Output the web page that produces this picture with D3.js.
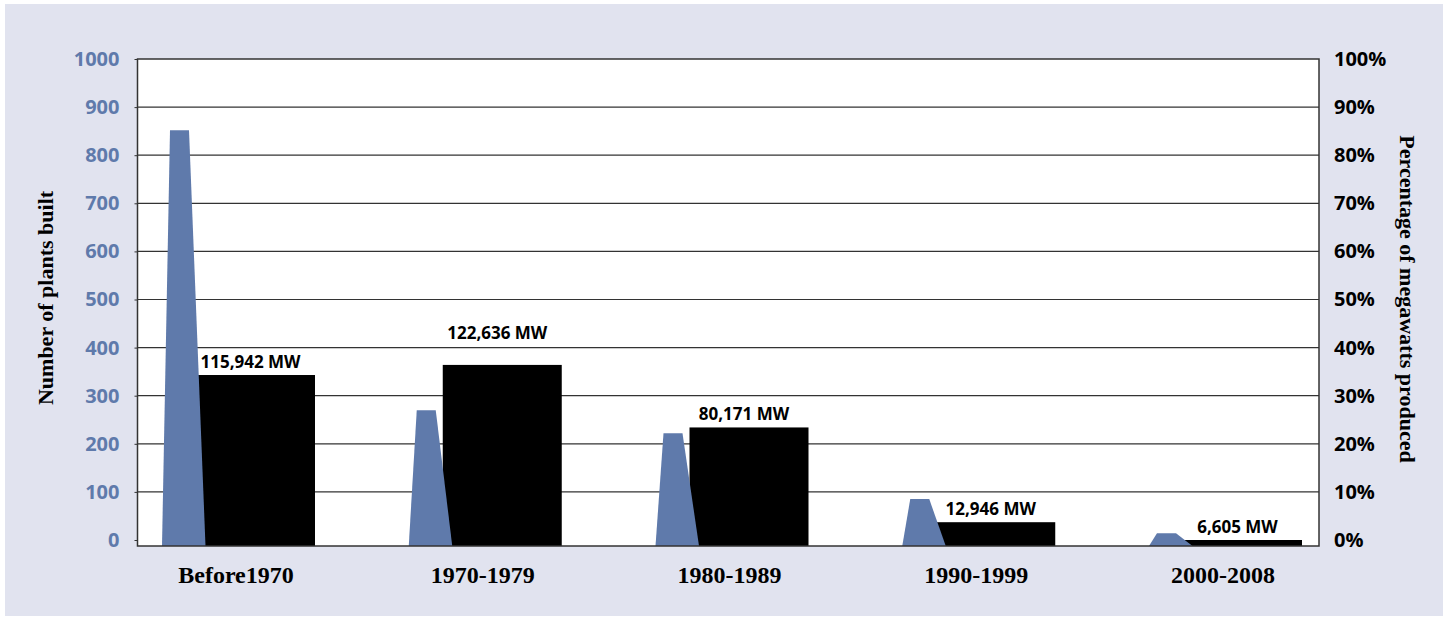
<!DOCTYPE html>
<html>
<head>
<meta charset="utf-8">
<script src="https://cdn.jsdelivr.net/npm/d3@7"></script>
<style>
	body { margin: 0; background: #fff; }
</style>
</head>
<body>
<div id="chart"></div>
<script>
const periods = ['Before1970', '1970-1979', '1980-1989', '1990-1999', '2000-2008'];
const plantsBuilt = [852, 270, 222, 85, 14];
const megawattShare = [34.3, 36.4, 23.4, 3.7, 0];
const megawattLabels = ['115,942 MW', '122,636 MW', '80,171 MW', '12,946 MW', '6,605 MW'];
const plantTicks = [0, 100, 200, 300, 400, 500, 600, 700, 800, 900, 1000];
const percentTicks = [0, 10, 20, 30, 40, 50, 60, 70, 80, 90, 100];

const dimensions = {
	width: 1448,
	height: 618,
	plot: { left: 137.5, right: 1319, top: 59, bottom: 546 },
	zeroY: 540
};

const blue = '#5f7aab';
const sans = '"Open Sans", sans-serif';
const serif = '"Liberation Serif", "Times New Roman", serif';

const svg = d3.select('#chart')
	.append('svg')
		.attr('width', dimensions.width)
		.attr('height', dimensions.height);

// panel background
svg.append('rect')
	.attr('x', 5).attr('y', 4)
	.attr('width', 1438).attr('height', 612)
	.attr('fill', '#e1e3ef');

const p = dimensions.plot;

svg.append('rect')
	.attr('x', p.left).attr('y', p.top)
	.attr('width', p.right - p.left).attr('height', p.bottom - p.top)
	.attr('fill', '#fff');

// scales
const yPlants = d3.scaleLinear()
	.domain([0, 1000])
	.range([dimensions.zeroY, p.top]);

const yPercent = d3.scaleLinear()
	.domain([0, 100])
	.range([dimensions.zeroY, p.top]);

// left edge of each group (cone base)
const xScale = d3.scalePoint()
	.domain(periods)
	.range([162, 1149]);

// gridlines
svg.append('g')
	.selectAll('line')
	.data(plantTicks.filter(d => d > 0 && d < 1000))
	.join('line')
		.attr('x1', p.left).attr('x2', p.right)
		.attr('y1', d => yPlants(d)).attr('y2', d => yPlants(d))
		.attr('stroke', '#333')
		.attr('stroke-width', 1.2);

// black bars: share of megawatts
const barOffset = 34, barWidth = 119;
svg.append('g')
	.selectAll('rect')
	.data(periods)
	.join('rect')
		.attr('x', d => xScale(d) + barOffset)
		.attr('y', (d, i) => yPercent(megawattShare[i]))
		.attr('width', barWidth)
		.attr('height', (d, i) => p.bottom - yPercent(megawattShare[i]))
		.attr('fill', '#000');

// blue cones: number of plants
const coneShape = (d, i) => {
	const l = xScale(d);
	const top = yPlants(plantsBuilt[i]);
	return `M${l},${p.bottom}L${l + 8},${top}L${l + 27},${top}L${l + 43.5},${p.bottom}Z`;
};
svg.append('g')
	.selectAll('path')
	.data(periods)
	.join('path')
		.attr('d', coneShape)
		.attr('fill', blue);

// MW labels over the bars
const labelLift = { '1970-1979': 19 };
svg.append('g')
	.selectAll('text')
	.data(periods)
	.join('text')
		.attr('x', d => xScale(d) + barOffset + barWidth / 2 - 5)
		.attr('y', (d, i) => yPercent(megawattShare[i]) - 7 - (labelLift[d] || 0))
		.attr('text-anchor', 'middle')
		.style('font-family', sans)
		.style('font-weight', 700)
		.style('font-size', '17px')
		.text((d, i) => megawattLabels[i]);

// frame
svg.append('rect')
	.attr('x', p.left).attr('y', p.top)
	.attr('width', p.right - p.left).attr('height', p.bottom - p.top)
	.attr('fill', 'none')
	.attr('stroke', '#333')
	.attr('stroke-width', 1.5);

// left axis
const yAxisLeft = svg.append('g')
	.attr('transform', `translate(${p.left},0)`)
	.call(d3.axisLeft(yPlants).tickValues(plantTicks).tickSize(3).tickPadding(15)
		.tickFormat(d3.format('d')));
yAxisLeft.select('.domain').remove();
yAxisLeft.selectAll('line').attr('stroke', '#333');
yAxisLeft.selectAll('text')
	.attr('fill', blue)
	.style('font-family', sans)
	.style('font-weight', 700)
	.style('font-size', '20px');

// right axis
const yAxisRight = svg.append('g')
	.attr('transform', `translate(${p.right},0)`)
	.call(d3.axisRight(yPercent).tickValues(percentTicks).tickSize(0).tickPadding(15)
		.tickFormat(d => d + '%'));
yAxisRight.select('.domain').remove();
yAxisRight.selectAll('text')
	.attr('fill', '#000')
	.style('font-family', sans)
	.style('font-weight', 700)
	.style('font-size', '20px');

// category labels
svg.append('g')
	.selectAll('text')
	.data(periods)
	.join('text')
		.attr('x', d => xScale(d) + 74)
		.attr('y', 583)
		.attr('text-anchor', 'middle')
		.style('font-family', serif)
		.style('font-weight', 700)
		.style('font-size', '24px')
		.text(d => d);

// axis titles
svg.append('text')
	.attr('transform', 'translate(45.5,298) rotate(-90)')
	.attr('text-anchor', 'middle')
	.attr('dominant-baseline', 'central')
	.style('font-family', serif)
	.style('font-weight', 700)
	.style('font-size', '22px')
	.text('Number of plants built');

svg.append('text')
	.attr('transform', 'translate(1407,299) rotate(90)')
	.attr('text-anchor', 'middle')
	.attr('dominant-baseline', 'central')
	.style('font-family', serif)
	.style('font-weight', 700)
	.style('font-size', '22px')
	.text('Percentage of megawatts produced');
</script>
</body>
</html>
